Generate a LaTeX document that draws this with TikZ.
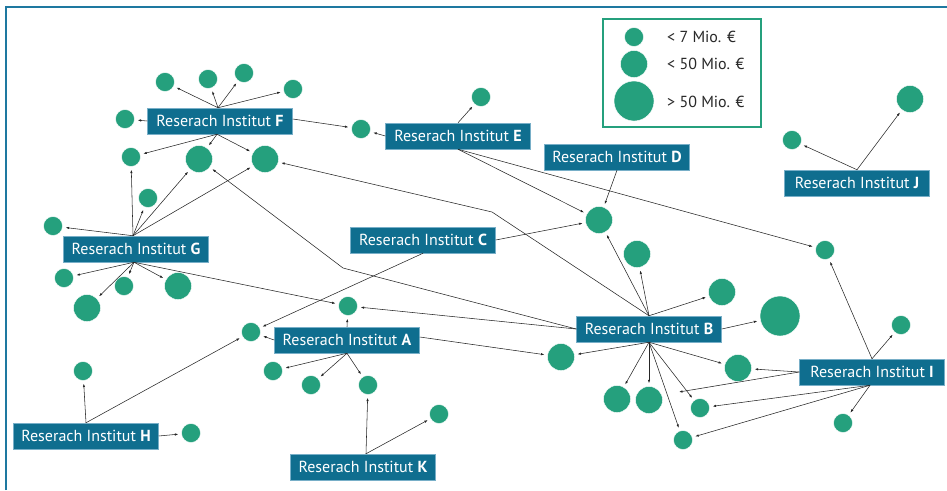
\documentclass[tikz,border=0pt]{standalone}
\usepackage{fontspec}
\setmainfont{PT Sans}
\usetikzlibrary{arrows.meta}

\definecolor{instblue}{RGB}{15,110,143}
\definecolor{instedge}{RGB}{120,175,200}
\definecolor{dotgreen}{RGB}{37,160,125}
\definecolor{framecol}{RGB}{30,120,160}
\definecolor{legendtext}{RGB}{40,40,40}

\begin{document}
\begin{tikzpicture}[
    x=1pt, y=-1pt,
    institut/.style={rectangle, fill=instblue, draw=instedge, line width=0.5pt,
        minimum width=145pt, minimum height=26pt, inner sep=0pt,
        text=white, font=\fontsize{16}{19}\selectfont},
    dot/.style={circle, fill=dotgreen, draw=white, line width=0.4pt, inner sep=0pt},
    small/.style={dot, minimum size=19pt},
    medium/.style={dot, minimum size=27pt},
    large/.style={dot, minimum size=40pt},
    link/.style={line width=0.55pt, black!85, -{Latex[length=3.5pt,width=2.4pt]},
        shorten >=3pt},
    legendlabel/.style={anchor=west, inner sep=0pt, text=legendtext,
        font=\fontsize{16}{18}\selectfont}
]
    \useasboundingbox (0,0) rectangle (947,490);
    \draw[framecol, line width=1.3pt] (6,490) -- (6,7) -- (947,7);

    % legend
    \draw[dotgreen, line width=1.3pt, fill=white] (603,19) rectangle (761,127);
    \node[small] (lsmall) at (634,37) {};
    \node[medium] (lmedium) at (634,64) {};
    \node[large] (llarge) at (634,101) {};
    \node[legendlabel] (tsmall) at (667,37) {< 7 Mio. €};
    \node[legendlabel] (tmedium) at (667,64) {< 50 Mio. €};
    \node[legendlabel] (tlarge) at (667,102) {> 50 Mio. €};

    % institutes
    \node[institut] (F) at (220,121) {Reserach Institut \textbf{F}};
    \node[institut] (E) at (458,136) {Reserach Institut \textbf{E}};
    \node[institut] (D) at (617,157) {Reserach Institut \textbf{D}};
    \node[institut] (J) at (857,183) {Reserach Institut \textbf{J}};
    \node[institut] (C) at (423,240) {Reserach Institut \textbf{C}};
    \node[institut] (G) at (136,249) {Reserach Institut \textbf{G}};
    \node[institut] (A) at (347,340) {Reserach Institut \textbf{A}};
    \node[institut] (B) at (649,329) {Reserach Institut \textbf{B}};
    \node[institut] (I) at (872,372) {Reserach Institut \textbf{I}};
    \node[institut] (H) at (86,436) {Reserach Institut \textbf{H}};
    \node[institut] (K) at (363,467) {Reserach Institut \textbf{K}};

    % funding
    \node[small] (f1) at (165,82) {};
    \node[small] (f2) at (208,79) {};
    \node[small] (f3) at (244,73) {};
    \node[small] (f4) at (293,89) {};
    \node[small] (f5) at (125,119) {};
    \node[small] (fg) at (131,157) {};
    \node[medium] (fgb1) at (199,159) {};
    \node[medium] (fgb2) at (265,159) {};
    \node[small] (fe) at (361,129) {};
    \node[small] (e1) at (481,97) {};
    \node[medium] (bcde) at (599,220) {};
    \node[small] (ei) at (825,250) {};
    \node[small] (j1) at (792,140) {};
    \node[medium] (j2) at (910,99) {};
    \node[small] (g1) at (53,226) {};
    \node[small] (g2) at (148,198) {};
    \node[small] (g3) at (64,278) {};
    \node[small] (g4) at (124,286) {};
    \node[medium] (g5) at (178,286) {};
    \node[medium] (g6) at (87,308) {};
    \node[small] (abg) at (348,306) {};
    \node[small] (ach) at (251,332) {};
    \node[small] (a1) at (273,371) {};
    \node[small] (a2) at (311,385) {};
    \node[small] (ak) at (368,385) {};
    \node[small] (k1) at (439,414) {};
    \node[small] (h1) at (83,371) {};
    \node[small] (h2) at (191,433) {};
    \node[medium] (ab) at (561,357) {};
    \node[medium] (b1) at (637,254) {};
    \node[medium] (b2) at (722,292) {};
    \node[large] (b3) at (780,316) {};
    \node[medium] (bi1) at (738,368) {};
    \node[medium] (b4) at (617,399) {};
    \node[medium] (b5) at (649,400) {};
    \node[small] (bi2) at (700,408) {};
    \node[small] (bi3) at (683,440) {};
    \node[small] (i1) at (901,325) {};
    \node[small] (i2) at (843,423) {};
    \coordinate (iend) at (679,392);
    \coordinate (kink1) at (343,268);
    \coordinate (kink2) at (492,212);

    % F
    \draw[link] ([xshift=-2pt]F.north) -- (f1);
    \draw[link] ([xshift=-2pt]F.north) -- (f2);
    \draw[link] ([xshift=-2pt]F.north) -- (f3);
    \draw[link] ([xshift=-2pt]F.north) -- (f4);
    \draw[link] (F.west) -- (f5);
    \draw[link] ([xshift=-3pt]F.south) -- (fg);
    \draw[link] ([xshift=-3pt]F.south) -- (fgb1);
    \draw[link] ([xshift=-3pt]F.south) -- (fgb2);
    \draw[link] ([yshift=2pt]F.east) -- (fe);
    % E
    \draw[link] (E.west) -- (fe);
    \draw[link] (E.north) -- (e1);
    \draw[link] (E.south) -- (bcde);
    \draw[link] (E.south) -- (ei);
    % D, C
    \draw[link] (D.south) -- (bcde);
    \draw[link] (C.east) -- (bcde);
    \draw[link] (C.south) -- (ach);
    % J
    \draw[link] (J.north) -- (j1);
    \draw[link] (J.north) -- (j2);
    % G
    \draw[link] ([xshift=-3pt]G.north) -- (g1);
    \draw[link] ([xshift=-3pt]G.north) -- (fg);
    \draw[link] ([xshift=-3pt]G.north) -- (g2);
    \draw[link] ([xshift=-3pt]G.north) -- (fgb1);
    \draw[link] ([xshift=-3pt]G.north) -- (fgb2);
    \draw[link] ([xshift=-2pt]G.south) -- (g3);
    \draw[link] ([xshift=-2pt]G.south) -- (g4);
    \draw[link] ([xshift=-2pt]G.south) -- (g5);
    \draw[link] ([xshift=-2pt]G.south) -- (g6);
    \draw[link] ([xshift=-2pt]G.south) -- (abg);
    % A
    \draw[link] (A.north) -- (abg);
    \draw[link] (A.west) -- (ach);
    \draw[link] (A.south) -- (a1);
    \draw[link] (A.south) -- (a2);
    \draw[link] (A.south) -- (ak);
    \draw[link] ([yshift=3pt]A.east) -- (ab);
    % H, K
    \draw[link] (H.north) -- (h1);
    \draw[link] (H.north) -- (ach);
    \draw[link] (H.east) -- (h2);
    \draw[link] ([xshift=3pt]K.north) -- (ak);
    \draw[link] ([xshift=3pt]K.north) -- (k1);
    % B
    \draw[link] (B.west) -- (kink1) -- (fgb1);
    \draw[link] (B.north) -- (kink2) -- (fgb2);
    \draw[link] (B.west) -- (abg);
    \draw[link] (B.north) -- (bcde);
    \draw[link] (B.north) -- (b1);
    \draw[link] (B.north) -- (b2);
    \draw[link] (B.east) -- (b3);
    \draw[link] (B.south) -- (ab);
    \draw[link] (B.south) -- (b4);
    \draw[link] (B.south) -- (b5);
    \draw[link] (B.south) -- (bi1);
    \draw[link] (B.south) -- (bi2);
    \draw[link] (B.south) -- (bi3);
    % I
    \draw[link] (I.north) -- (ei);
    \draw[link] (I.north) -- (i1);
    \draw[link] (I.west) -- (bi1);
    \draw[link, shorten >=0pt] (I.west) -- (iend);
    \draw[link] ([xshift=-2pt]I.south) -- (bi2);
    \draw[link] ([xshift=-2pt]I.south) -- (bi3);
    \draw[link] ([xshift=-2pt]I.south) -- (i2);
\end{tikzpicture}
\end{document}
